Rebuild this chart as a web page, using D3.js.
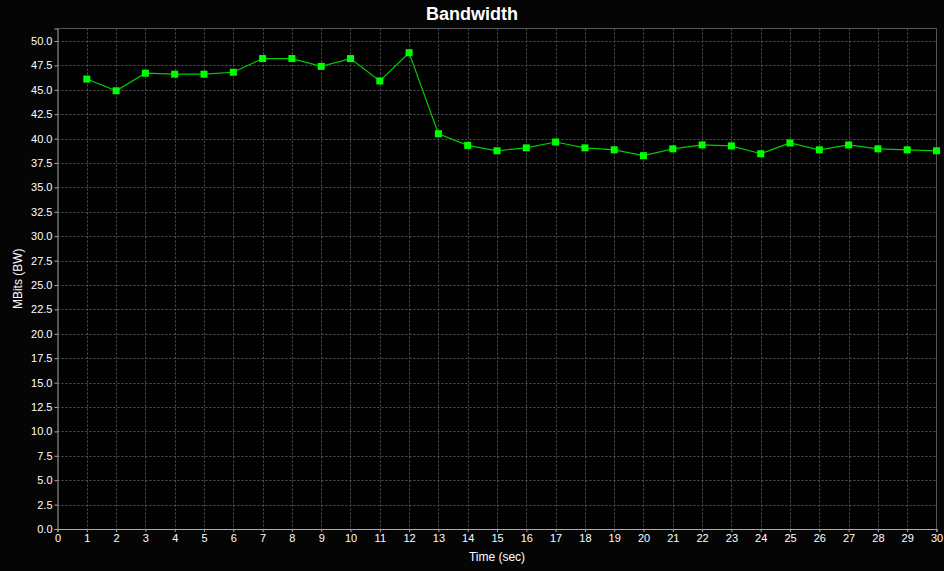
<!DOCTYPE html>
<html><head><meta charset="utf-8">
<script src="https://cdn.jsdelivr.net/npm/d3@7"></script>
<style>html,body{margin:0;padding:0;background:#050505;}svg{display:block;}</style>
</head><body>
<svg id="c" width="944" height="571"></svg>
<script>
const title = "Bandwidth";
const xLabel = "Time (sec)";
const yLabel = "MBits (BW)";
const times = [1,2,3,4,5,6,7,8,9,10,11,12,13,14,15,16,17,18,19,20,21,22,23,24,25,26,27,28,29,30];
const bandwidth = [46.1,44.9,46.7,46.6,46.6,46.8,48.2,48.2,47.4,48.2,45.9,48.8,40.5,39.3,38.75,39.05,39.65,39.05,38.85,38.25,38.95,39.35,39.25,38.45,39.55,38.85,39.35,38.95,38.85,38.75];
const xTicks = d3.range(0,31);
const yTicks = d3.range(0,50.01,2.5);

const svg = d3.select("#c");
const W = 944, H = 571;
const m = {l:57.5, r:7.5, t:28.5, b:42};
const x = d3.scaleLinear().domain([0,30]).range([m.l, W-m.r]);
const y = d3.scaleLinear().domain([0,51.28]).range([H-m.b, m.t]);

svg.append("rect").attr("width",W).attr("height",H).attr("fill","#050505");
svg.append("rect").attr("x",m.l).attr("y",m.t).attr("width",W-m.r-m.l).attr("height",H-m.b-m.t).attr("fill","#000");

// grid
const g = svg.append("g");
g.selectAll(".vx").data(xTicks.filter(d=>d>0&&d<30)).join("line")
  .attr("x1",d=>Math.round(x(d))+0.5).attr("x2",d=>Math.round(x(d))+0.5)
  .attr("y1",m.t).attr("y2",H-m.b)
  .attr("stroke","#555").attr("stroke-dasharray","2,2").attr("stroke-width",1);
g.selectAll(".hy").data(yTicks.filter(d=>d>0)).join("line")
  .attr("y1",d=>Math.round(y(d))+0.5).attr("y2",d=>Math.round(y(d))+0.5)
  .attr("x1",m.l).attr("x2",W-m.r)
  .attr("stroke","#555").attr("stroke-dasharray","2,2").attr("stroke-width",1);

// frame top/right
svg.append("path").attr("d",`M${m.l},${m.t}H${W-m.r}V${H-m.b}`).attr("fill","none").attr("stroke","#555").attr("stroke-width",1);

// axes
const xAxis = d3.axisBottom(x).tickValues(xTicks).tickFormat(d3.format("d")).tickSize(3).tickPadding(2);
const yAxis = d3.axisLeft(y).tickValues(yTicks).tickFormat(d3.format(".1f")).tickSize(3).tickPadding(2);
const ax = svg.append("g").attr("transform",`translate(0,${H-m.b})`).call(xAxis);
const ay = svg.append("g").attr("transform",`translate(${m.l},0)`).call(yAxis);
[ax,ay].forEach(a=>{
  a.select(".domain").attr("stroke","#aaa");
  a.selectAll(".tick line").attr("stroke","#aaa");
  a.selectAll("text").attr("fill","#fff").attr("font-family","'Liberation Sans', Arial, sans-serif").attr("font-size",11);
});

// line + markers
const line = d3.line().x((d,i)=>x(times[i])).y(d=>y(d));
svg.append("path").datum(bandwidth).attr("d",line).attr("fill","none").attr("stroke","#00cc00").attr("stroke-width",1.2);
svg.selectAll(".pt").data(bandwidth).join("rect")
  .attr("x",(d,i)=>x(times[i])-3.5).attr("y",d=>y(d)-3.5).attr("width",7).attr("height",7).attr("fill","#00ff00");

// texts
svg.append("text").attr("x",W/2).attr("y",20).attr("text-anchor","middle").attr("fill","#fff")
  .attr("font-family","'Liberation Sans', Arial, sans-serif").attr("font-weight","bold").attr("font-size",18).text(title);
svg.append("text").attr("x",(m.l+W-m.r)/2).attr("y",561).attr("text-anchor","middle").attr("fill","#fff")
  .attr("font-family","'Liberation Sans', Arial, sans-serif").attr("font-size",12).text(xLabel);
svg.append("text").attr("transform",`translate(22,${(m.t+H-m.b)/2}) rotate(-90)`).attr("text-anchor","middle").attr("fill","#fff")
  .attr("font-family","'Liberation Sans', Arial, sans-serif").attr("font-size",12).text(yLabel);
</script>
</body></html>
